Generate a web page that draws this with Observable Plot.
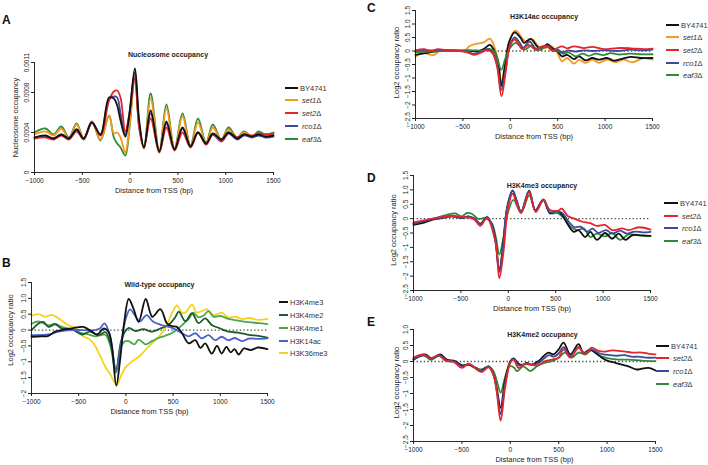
<!DOCTYPE html>
<html><head><meta charset="utf-8">
<script src="https://cdn.jsdelivr.net/npm/d3@7"></script>
<script src="https://cdn.jsdelivr.net/npm/@observablehq/plot@0.6"></script>
<style>
body{margin:0;background:#fff;font-family:"Liberation Sans",Arial,sans-serif;}
#root{position:relative;width:708px;height:465px;overflow:hidden;background:#fff;}
.panel{position:absolute;}
.letter{position:absolute;font-weight:bold;font-size:12px;line-height:12px;color:#111;}
.lrow{position:absolute;display:flex;align-items:center;white-space:nowrap;font-size:7.5px;color:#333;height:10px;}
.lrow .ln{display:inline-block;height:2px;}
</style></head><body><div id="root"></div>
<script>
// ---------- shared axis values ----------
const xDomain = [-1000, 1500];
const xTicks = [-1000, -500, 0, 500, 1000, 1500];
const xTickLabels = ["−1000", "−500", "0", "500", "1000", "1500"];
const xLabel = "Distance from TSS (bp)";

// ---------- Panel A: nucleosome occupancy (values in units of 1e-4) ----------
const aX = [-1000, -885, -800, -720, -640, -560, -485, -400, -310, -220, -170, -135, -100, -50, -10, 50, 95, 145, 215, 305, 380, 465, 548, 632, 710, 795, 865, 955, 1030, 1120, 1190, 1275, 1345, 1415, 1500];
const aBY4741 = [3.5, 3.7, 3.4, 3.8, 3.4, 4.3, 3.4, 5.0, 3.8, 7.5, 7.4, 6.7, 5.2, 3.6, 5.6, 10.4, 5.2, 2.5, 6.2, 2.1, 5.1, 2.3, 4.5, 2.6, 4.0, 2.9, 3.9, 3.3, 4.0, 3.4, 3.8, 3.6, 3.8, 3.6, 3.7];
const aSet1 = [3.8, 4.1, 3.7, 4.4, 3.4, 4.8, 3.4, 5.1, 3.3, 5.7, 3.9, 4.0, 3.5, 2.0, 4.3, 9.5, 4.5, 2.4, 7.4, 2.1, 6.4, 2.3, 5.6, 2.6, 5.0, 2.9, 4.5, 3.3, 4.3, 3.4, 4.0, 3.6, 3.9, 3.8, 3.9];
const aSet2 = [3.4, 3.5, 3.3, 3.7, 3.3, 4.1, 3.3, 5.0, 3.7, 7.2, 8.1, 8.2, 7.5, 4.1, 5.7, 9.4, 4.5, 2.5, 5.4, 2.0, 4.5, 2.2, 4.0, 2.5, 4.0, 2.8, 3.8, 3.2, 4.0, 3.5, 3.8, 3.7, 3.9, 3.8, 3.9];
const aRco1 = [3.5, 3.6, 3.4, 3.8, 3.4, 4.3, 3.4, 5.0, 3.8, 7.3, 7.6, 7.5, 5.9, 3.8, 5.7, 10.0, 4.8, 2.5, 5.9, 2.1, 4.9, 2.3, 4.4, 2.6, 4.0, 2.8, 3.8, 3.1, 3.9, 3.3, 3.7, 3.5, 3.7, 3.5, 3.6];
const aEaf3 = [4.0, 4.4, 3.8, 4.6, 3.5, 4.9, 3.4, 5.1, 3.2, 5.7, 3.5, 2.9, 2.5, 1.7, 4.1, 9.6, 4.6, 2.5, 7.9, 2.2, 6.8, 2.4, 5.9, 2.7, 5.4, 3.0, 4.8, 3.3, 4.5, 3.5, 4.1, 3.6, 4.1, 3.8, 4.0];
const aUnit = 1e-4;
const aYTicks = [0, 0.0004, 0.0008, 0.0011];
const aYTickLabels = ["0", "0.0004", "0.0008", "0.0011"];

// ---------- Panel B: wild-type occupancy (log2 ratio) ----------
const bH3K4me3 = [[-1000,-0.21],[-900,-0.2],[-820,-0.18],[-750,-0.05],[-680,0],[-575,0.05],[-450,0.1],[-360,-0.05],[-305,-0.14],[-235,0.05],[-185,-0.05],[-150,-0.47],[-102,-1.75],[-60,-0.9],[-20,0.2],[30,0.98],[80,0.68],[135,0.26],[210,0.98],[280,0.42],[365,0.66],[435,0.21],[490,0.12],[540,0.1],[595,-0.1],[665,-0.42],[735,-0.32],[790,-0.56],[840,-0.42],[910,-0.74],[965,-0.5],[1015,-0.74],[1065,-0.53],[1110,-0.7],[1150,-0.6],[1195,-0.77],[1250,-0.58],[1320,-0.63],[1400,-0.55],[1500,-0.6]];
const bH3K4me2 = [[-1000,0],[-925,0.21],[-875,0.26],[-820,0.1],[-750,0.18],[-680,0.05],[-575,0.03],[-465,-0.14],[-380,-0.05],[-290,-0.16],[-215,-0.07],[-160,-0.45],[-105,-1.26],[-55,-0.4],[-10,-0.05],[30,0.07],[100,-0.03],[185,0.03],[275,-0.05],[365,0.05],[450,0.16],[520,0.39],[560,0.58],[630,0.28],[700,0.53],[770,0.22],[840,0.37],[910,0.16],[1000,0.05],[1085,-0.05],[1190,-0.08],[1300,-0.15],[1405,-0.18],[1500,-0.24]];
const bH3K4me1 = [[-1000,0.2],[-925,0.27],[-820,0.15],[-750,0.2],[-680,0.1],[-575,0.03],[-465,-0.1],[-415,-0.12],[-325,-0.2],[-220,-0.15],[-165,-0.5],[-105,-1.35],[-60,-0.6],[-10,-0.35],[30,-0.35],[90,-0.45],[135,-0.3],[210,-0.45],[275,-0.35],[345,-0.25],[415,-0.18],[485,-0.1],[555,0.05],[610,0.2],[665,0.35],[715,0.55],[770,0.4],[820,0.45],[875,0.6],[930,0.42],[1000,0.45],[1085,0.35],[1190,0.3],[1300,0.25],[1405,0.22],[1500,0.19]];
const bH3K14ac = [[-1000,-0.16],[-820,-0.14],[-715,-0.05],[-575,0],[-330,0],[-275,0.05],[-227,0.21],[-170,-0.15],[-105,-1.31],[-55,-0.5],[0,0.37],[45,0.65],[115,0.37],[150,0.27],[220,0.47],[290,0.26],[380,0.16],[490,0.07],[595,-0.1],[665,-0.2],[735,-0.1],[805,-0.26],[875,-0.16],[945,-0.32],[1015,-0.21],[1085,-0.32],[1155,-0.25],[1230,-0.35],[1300,-0.27],[1400,-0.28],[1500,-0.26]];
const bH3K36me3 = [[-1000,0.45],[-925,0.5],[-855,0.42],[-785,0.48],[-730,0.4],[-680,0.3],[-610,0.15],[-535,0.08],[-500,-0.05],[-450,-0.2],[-380,-0.3],[-325,-0.5],[-275,-0.8],[-220,-1.15],[-165,-1.4],[-120,-1.65],[-95,-1.75],[-60,-1.5],[-10,-1.2],[60,-1.0],[135,-0.85],[205,-0.63],[310,-0.32],[380,-0.1],[435,0.16],[470,0.42],[505,0.63],[540,0.78],[595,0.55],[630,0.55],[700,0.8],[750,0.55],[805,0.6],[860,0.65],[910,0.48],[965,0.5],[1015,0.55],[1085,0.4],[1160,0.42],[1230,0.35],[1300,0.38],[1405,0.32],[1500,0.35]];
const bYTicks = [1.5, 1.0, 0.5, 0, -0.5, -1, -1.5, -2];
const bYTickLabels = ["1.5", "1.0", "0.5", "0", "−0.5", "−1", "−1.5", "−2"];

// ---------- Panel C: H3K14ac occupancy ----------
const cBY4741 = [[-1000,-0.14],[-880,-0.07],[-770,0],[-650,0.02],[-420,0.01],[-350,-0.02],[-280,0.07],[-215,0.23],[-175,0.05],[-130,-0.38],[-95,-1.3],[-58,-0.57],[-15,0.3],[45,0.69],[110,0.48],[145,0.3],[215,0.45],[275,0.2],[320,0.05],[390,0.25],[440,0.11],[495,0],[545,-0.2],[600,-0.14],[670,-0.3],[725,-0.2],[795,-0.35],[865,-0.26],[935,-0.32],[1020,-0.26],[1095,-0.36],[1165,-0.3],[1270,-0.22],[1375,-0.26],[1500,-0.26]];
const cSet1 = [[-1000,-0.2],[-920,-0.08],[-810,-0.15],[-735,0.02],[-600,0.02],[-475,0.02],[-435,0.17],[-365,0.26],[-280,0.32],[-215,0.46],[-155,0.02],[-120,-0.57],[-95,-1.15],[-50,-0.44],[-5,0.42],[55,0.75],[125,0.48],[160,0.36],[230,0.44],[300,0.17],[370,0.11],[425,0.2],[495,-0.07],[545,-0.38],[600,-0.26],[670,-0.47],[725,-0.32],[795,-0.44],[865,-0.32],[935,-0.44],[1020,-0.32],[1110,-0.42],[1200,-0.32],[1285,-0.42],[1410,-0.26],[1500,-0.32]];
const cSet2 = [[-1000,0.02],[-910,0.07],[-840,-0.01],[-770,0.07],[-650,0.02],[-530,0],[-455,-0.05],[-385,-0.14],[-315,-0.07],[-245,0.02],[-190,-0.07],[-140,-0.57],[-93,-1.68],[-50,-0.81],[-5,0.17],[45,0.42],[90,0.24],[125,0.07],[195,0.23],[265,0.05],[335,0.17],[390,0.17],[440,0.02],[495,0.11],[545,0.17],[600,0.1],[670,0.17],[775,0.11],[865,0.15],[985,0.07],[1130,0.11],[1270,0.1],[1410,0.07],[1500,0.09]];
const cRco1 = [[-1000,0],[-900,0.03],[-800,0.02],[-650,0.02],[-455,-0.02],[-385,-0.1],[-315,-0.04],[-245,0.07],[-190,-0.02],[-140,-0.5],[-95,-1.45],[-50,-0.7],[-5,0.2],[45,0.5],[100,0.3],[135,0.12],[205,0.35],[270,0.08],[330,0.15],[395,0.2],[445,0.05],[500,0.05],[550,-0.05],[610,0.02],[680,-0.02],[780,0.02],[870,0],[990,0.03],[1130,0],[1270,0.05],[1410,0.02],[1500,0.05]];
const cEaf3 = [[-1000,-0.05],[-880,-0.02],[-750,0],[-600,0],[-450,0.02],[-350,0.02],[-280,0.02],[-220,0.08],[-175,0],[-140,-0.25],[-95,-0.7],[-55,-0.3],[-5,0.1],[55,0.3],[125,0.1],[155,0.05],[225,0.2],[285,0.02],[340,0.1],[395,0.15],[445,0],[500,0],[555,-0.1],[615,-0.05],[690,-0.2],[760,-0.1],[830,-0.18],[900,-0.1],[980,-0.15],[1060,-0.08],[1150,-0.13],[1250,-0.1],[1370,-0.12],[1500,-0.12]];
const cdYTicks = [1.5, 1.0, 0.5, 0, -0.5, -1, -1.5, -2, -2.5];
const cdYTickLabels = ["1.5", "1.0", "0.5", "0", "−0.5", "−1", "−1.5", "−2", "−2.5"];

// ---------- Panel D: H3K4me3 occupancy ----------
const dBY4741 = [[-1000,-0.22],[-910,-0.16],[-805,-0.04],[-700,0.02],[-595,0.08],[-490,0.02],[-420,0.08],[-350,-0.04],[-295,-0.18],[-225,0.05],[-175,-0.2],[-135,-0.76],[-95,-1.8],[-58,-1.0],[-15,0.33],[45,0.97],[90,0.6],[135,0.23],[220,0.97],[285,0.29],[370,0.67],[440,0.2],[515,0.27],[565,0.15],[620,-0.16],[690,-0.46],[740,-0.4],[810,-0.64],[865,-0.46],[935,-0.74],[1020,-0.5],[1095,-0.7],[1165,-0.52],[1235,-0.74],[1305,-0.58],[1410,-0.58],[1500,-0.6]];
const dSet2 = [[-1000,-0.13],[-860,-0.04],[-700,0.06],[-595,0.1],[-490,0.06],[-365,-0.01],[-295,-0.25],[-225,0.02],[-135,-0.82],[-95,-2.07],[-50,-1.13],[-5,0.33],[45,0.87],[90,0.5],[135,0.2],[220,0.91],[290,0.23],[370,0.65],[440,0.3],[520,0.27],[565,0.35],[630,0.08],[705,-0.01],[775,-0.1],[865,-0.16],[935,-0.25],[1020,-0.22],[1095,-0.4],[1200,-0.34],[1270,-0.4],[1375,-0.3],[1500,-0.38]];
const dRco1 = [[-1000,-0.18],[-900,-0.1],[-800,-0.02],[-700,0.03],[-595,0.08],[-490,0.03],[-420,0.06],[-350,0],[-295,-0.2],[-225,0.05],[-175,-0.2],[-135,-0.8],[-95,-1.85],[-55,-1.0],[-15,0.35],[45,0.98],[90,0.6],[135,0.25],[220,0.95],[285,0.28],[370,0.65],[440,0.22],[515,0.25],[570,0.2],[630,-0.08],[700,-0.3],[760,-0.28],[830,-0.45],[890,-0.35],[950,-0.5],[1030,-0.4],[1100,-0.52],[1180,-0.42],[1250,-0.52],[1330,-0.45],[1420,-0.48],[1500,-0.46]];
const dEaf3 = [[-1000,-0.16],[-810,-0.02],[-630,0.15],[-560,0.18],[-490,0.08],[-435,0.2],[-385,0.17],[-315,-0.01],[-245,0.02],[-175,-0.15],[-132,-0.64],[-95,-1.25],[-50,-0.64],[-5,0.2],[55,0.65],[135,0.2],[220,0.81],[290,0.27],[370,0.63],[440,0.18],[515,0.2],[585,0.02],[655,-0.28],[725,-0.4],[795,-0.34],[865,-0.64],[935,-0.52],[1020,-0.62],[1095,-0.5],[1180,-0.74],[1270,-0.55],[1375,-0.58],[1500,-0.6]];

// ---------- Panel E: H3K4me2 occupancy ----------
const eBY4741 = [[-1000,0.06],[-950,0.17],[-880,0.22],[-810,0.1],[-725,0.22],[-655,0.06],[-570,0.01],[-500,-0.12],[-430,-0.1],[-365,-0.2],[-310,-0.3],[-225,-0.15],[-175,-0.4],[-140,-0.84],[-100,-1.45],[-55,-0.6],[0,0.01],[35,0.1],[85,-0.07],[135,-0.1],[170,-0.04],[220,-0.1],[290,0.01],[345,0.17],[395,0.28],[445,0.22],[500,0.38],[550,0.59],[620,0.22],[705,0.54],[755,0.27],[825,0.38],[875,0.28],[945,0.12],[1015,0.01],[1085,-0.04],[1155,-0.1],[1220,-0.15],[1305,-0.25],[1360,-0.22],[1430,-0.2],[1500,-0.28]];
const eSet2 = [[-1000,0.12],[-895,0.22],[-825,0.1],[-740,0.2],[-670,0.03],[-585,-0.01],[-500,-0.2],[-430,-0.07],[-345,-0.25],[-295,-0.33],[-225,-0.18],[-175,-0.4],[-140,-0.95],[-100,-1.85],[-55,-0.85],[0,-0.04],[35,0.06],[85,-0.2],[155,-0.07],[220,-0.1],[290,-0.12],[360,0.01],[430,0.06],[500,0.12],[550,0.38],[620,0.12],[705,0.43],[775,0.24],[840,0.43],[910,0.33],[980,0.31],[1050,0.35],[1120,0.33],[1190,0.31],[1255,0.28],[1360,0.28],[1430,0.24],[1500,0.22]];
const eRco1 = [[-1000,0.08],[-890,0.2],[-820,0.08],[-735,0.2],[-660,0.04],[-575,0],[-500,-0.15],[-430,-0.08],[-350,-0.22],[-300,-0.3],[-225,-0.16],[-175,-0.4],[-140,-0.9],[-100,-1.65],[-55,-0.7],[0,-0.02],[35,0.08],[85,-0.12],[150,-0.08],[220,-0.1],[290,-0.05],[350,0.1],[400,0.2],[450,0.15],[500,0.25],[550,0.45],[620,0.18],[705,0.45],[765,0.25],[835,0.38],[900,0.28],[960,0.22],[1030,0.2],[1100,0.18],[1180,0.2],[1250,0.15],[1320,0.15],[1400,0.12],[1500,0.12]];
const eEaf3 = [[-1000,0.05],[-890,0.18],[-820,0.05],[-735,0.18],[-660,0.02],[-575,-0.02],[-500,-0.12],[-430,-0.1],[-350,-0.2],[-300,-0.25],[-225,-0.15],[-175,-0.3],[-140,-0.6],[-100,-0.97],[-55,-0.5],[-10,-0.15],[35,-0.18],[70,-0.3],[135,-0.15],[205,-0.3],[275,-0.15],[345,-0.05],[430,0.01],[500,0.12],[565,0.28],[635,0.12],[705,0.28],[775,0.22],[840,0.35],[930,0.17],[1015,0.1],[1120,0.06],[1220,0.06],[1360,0.03],[1500,0.01]];
const eYTicks = [1.0, 0.5, 0, -0.5, -1, -1.5, -2, -2.5];
const eYTickLabels = ["1.0", "0.5", "0", "−0.5", "−1", "−1.5", "−2", "−2.5"];

// ---------- colours ----------
const C = {black:"#111111", orange:"#f39a1e", red:"#e3262b", blue:"#3b4aa0", green:"#2f8a3a",
           dkgreen:"#1f5a2c", ltgreen:"#4aa84a", bblue:"#4a63c8", yellow:"#f7d21e"};

const pairs = p => p.map(([x, y]) => ({x, y}));
const root = document.getElementById("root");

function panel(s) {
  const yMap = new Map(s.yTicks.map((t, i) => [t, s.yTickLabels[i]]));
  const xMap = new Map(xTicks.map((t, i) => [t, xTickLabels[i]]));
  const marks = [];
  if (s.zero) marks.push(Plot.ruleY([0], {stroke:"#444", strokeWidth:1.3, strokeDasharray:"1.3,2.3"}));
  for (const se of s.series) marks.push(Plot.line(se.rows, {x:"x", y:"y", stroke:se.color, strokeWidth:1.8, curve:"catmull-rom"}));
  marks.push(
    Plot.ruleX([xDomain[0]], {stroke:"#111", strokeWidth:0.9}),
    Plot.ruleY([s.yDomain[0]], {stroke:"#111", strokeWidth:0.9}),
    Plot.axisX({ticks:xTicks, tickFormat:d => xMap.get(d), tickSize:3, tickPadding:3, label:null, fontSize:6.5}),
    Plot.axisY({ticks:s.yTicks, tickFormat:d => yMap.get(d), tickSize:3, tickPadding:2.5, tickRotate:-90, label:null, fontSize:6.5}),
    Plot.text([s.title], {frameAnchor:"top", textAnchor:"middle", dy:s.titleDy, dx:s.titleDx, fontWeight:"bold", fontSize:7, fill:"#222"}),
    Plot.text([xLabel], {frameAnchor:"bottom", textAnchor:"middle", dy:20, fontSize:7.5, fill:"#222"}),
    Plot.text([s.yLabel], {frameAnchor:"left", textAnchor:"middle", lineAnchor:"middle", dx:s.yLabelDx, dy:s.yLabelDy, rotate:-90, fontSize:7.5, fill:"#222"})
  );
  const svg = Plot.plot({
    width:s.w, height:s.h, marginLeft:s.mL, marginRight:s.mR, marginTop:s.mT, marginBottom:s.mB,
    x:{domain:xDomain}, y:{domain:s.yDomain},
    style:{fontFamily:"'Liberation Sans', Arial, sans-serif", fontSize:"6.5px", color:"#222", background:"transparent", overflow:"visible"},
    marks
  });
  svg.classList.add("panel");
  svg.style.left = s.left + "px"; svg.style.top = s.top + "px";
  root.appendChild(svg);
}

function legend(items, x, lineW, rows) {
  items.forEach((it, i) => {
    const r = document.createElement("div");
    r.className = "lrow";
    r.style.left = x + "px"; r.style.top = (rows[i] - 5) + "px";
    r.innerHTML = `<span class="ln" style="width:${lineW}px;background:${it.color}"></span><span style="margin-left:${it.indent ? 4 : 2}px">${it.label}</span>`;
    root.appendChild(r);
  });
}
function letter(t, x, y) {
  const d = document.createElement("div");
  d.className = "letter"; d.textContent = t;
  d.style.left = x + "px"; d.style.top = y + "px";
  root.appendChild(d);
}
const strain = n => `<i>${n}</i>Δ`;

// Panel A
const aRows = v => aX.map((x, i) => ({x, y: v[i] * aUnit}));
panel({left:0, top:40, w:290, h:160, mL:34, mR:17, mT:22, mB:28,
  yDomain:[0, 0.0011], yTicks:aYTicks, yTickLabels:aYTickLabels, zero:false,
  title:"Nucleosome occupancy", titleDy:-10, titleDx:14, yLabel:"Nucleosome occupancy", yLabelDx:-19, yLabelDy:0,
  series:[{rows:aRows(aEaf3), color:C.green},{rows:aRows(aSet1), color:C.orange},{rows:aRows(aRco1), color:C.blue},{rows:aRows(aSet2), color:C.red},{rows:aRows(aBY4741), color:C.black}]});

// Panel B
panel({left:0, top:268, w:290, h:150, mL:31, mR:23, mT:14, mB:25,
  yDomain:[-2, 1.5], yTicks:bYTicks, yTickLabels:bYTickLabels, zero:true,
  title:"Wild-type occupancy", titleDy:0, titleDx:10, yLabel:"Log2 occupancy ratio", yLabelDx:-21, yLabelDy:-8,
  series:[{rows:pairs(bH3K36me3), color:C.yellow},{rows:pairs(bH3K4me1), color:C.ltgreen},{rows:pairs(bH3K4me2), color:C.dkgreen},{rows:pairs(bH3K14ac), color:C.bblue},{rows:pairs(bH3K4me3), color:C.black}]});

// Panel C
panel({left:380, top:0, w:290, h:150, mL:35, mR:18, mT:10, mB:32,
  yDomain:[-2.5, 1.5], yTicks:cdYTicks, yTickLabels:cdYTickLabels, zero:true,
  title:"H3K14ac occupancy", titleDy:4, titleDx:10, yLabel:"Log2 occupancy ratio", yLabelDx:-19, yLabelDy:-2,
  series:[{rows:pairs(cSet1), color:C.orange},{rows:pairs(cBY4741), color:C.black},{rows:pairs(cEaf3), color:C.green},{rows:pairs(cRco1), color:C.blue},{rows:pairs(cSet2), color:C.red}]});

// Panel D
panel({left:380, top:160, w:290, h:155, mL:33, mR:20, mT:15, mB:25,
  yDomain:[-2.5, 1.5], yTicks:cdYTicks, yTickLabels:cdYTickLabels, zero:true,
  title:"H3K4me3 occupancy", titleDy:8, titleDx:10, yLabel:"Log2 occupancy ratio", yLabelDx:-20, yLabelDy:-3,
  series:[{rows:pairs(dEaf3), color:C.green},{rows:pairs(dBY4741), color:C.black},{rows:pairs(dRco1), color:C.blue},{rows:pairs(dSet2), color:C.red}]});

// Panel E
panel({left:380, top:315, w:290, h:150, mL:33, mR:15, mT:14, mB:24,
  yDomain:[-2.5, 1.0], yTicks:eYTicks, yTickLabels:eYTickLabels, zero:true,
  title:"H3K4me2 occupancy", titleDy:3, titleDx:8, yLabel:"Log2 occupancy ratio", yLabelDx:-17, yLabelDy:-3,
  series:[{rows:pairs(eEaf3), color:C.green},{rows:pairs(eBY4741), color:C.black},{rows:pairs(eRco1), color:C.blue},{rows:pairs(eSet2), color:C.red}]});

// Legends
legend([{label:"BY4741", color:C.black},{label:strain("set1"), color:C.orange, indent:1},{label:strain("set2"), color:C.red, indent:1},{label:strain("rco1"), color:C.blue, indent:1},{label:strain("eaf3"), color:C.green, indent:1}], 285, 13, [88, 100, 113, 126, 139]);
legend([{label:"H3K4me3", color:C.black},{label:"H3K4me2", color:C.dkgreen},{label:"H3K4me1", color:C.ltgreen},{label:"H3K14ac", color:C.bblue},{label:"H3K36me3", color:C.yellow}], 279, 9, [302, 315, 328, 341, 353]);
legend([{label:"BY4741", color:C.black},{label:strain("set1"), color:C.orange, indent:1},{label:strain("set2"), color:C.red, indent:1},{label:strain("rco1"), color:C.blue, indent:1},{label:strain("eaf3"), color:C.green, indent:1}], 666, 13, [25, 37, 50, 63, 75]);
legend([{label:"BY4741", color:C.black},{label:strain("set2"), color:C.red, indent:1},{label:strain("rco1"), color:C.blue, indent:1},{label:strain("eaf3"), color:C.green, indent:1}], 664, 14, [203, 216, 228, 241]);
legend([{label:"BY4741", color:C.black},{label:strain("set2"), color:C.red, indent:1},{label:strain("rco1"), color:C.blue, indent:1},{label:strain("eaf3"), color:C.green, indent:1}], 656, 13, [346, 358, 371, 384]);

// Panel letters
letter("A", 2, 13.5); letter("B", 2, 256.5); letter("C", 367, 1.5); letter("D", 367, 171.5); letter("E", 367, 315.5);
</script></body></html>
